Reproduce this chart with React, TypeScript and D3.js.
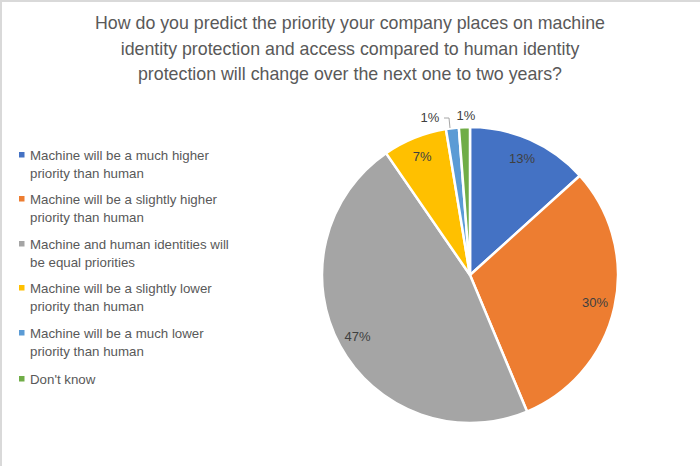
import React from "react";
import * as d3 from "d3";

const titleLines = [
  "How do you predict the priority your company places on machine",
  "identity protection and access compared to human identity",
  "protection will change over the next one to two years?",
];

const categories = [
  "Machine will be a much higher priority than human",
  "Machine will be a slightly higher priority than human",
  "Machine and human identities will be equal priorities",
  "Machine will be a slightly lower priority than human",
  "Machine will be a much lower priority than human",
  "Don't know",
];

const legendLines = [
  ["Machine will be a much higher", "priority than human"],
  ["Machine will be a slightly higher", "priority than human"],
  ["Machine and human identities will", "be equal priorities"],
  ["Machine will be a slightly lower", "priority than human"],
  ["Machine will be a much lower", "priority than human"],
  ["Don't know"],
];

const values = [13.3, 30.4, 46.7, 7.0, 1.4, 1.2];
const colors = ["#4472C4", "#ED7D31", "#A5A5A5", "#FFC000", "#5B9BD5", "#70AD47"];

const W = 700;
const H = 466;
const FONT = "'Liberation Sans', Arial, sans-serif";

export default function App() {
  const cx = 470;
  const cy = 275;
  const r = 148;

  const pie = d3.pie<number>().sort(null).value((d) => d)(values);
  const arc = d3.arc<d3.PieArcDatum<number>>().innerRadius(0).outerRadius(r);
  const labelArc = d3.arc<d3.PieArcDatum<number>>().innerRadius(r * 0.865).outerRadius(r * 0.865);

  const labelPos = pie.map((p, i) => {
    if (i === 4) return { x: 430 - cx, y: 117 - cy };
    if (i === 5) return { x: 466 - cx, y: 115 - cy };
    const [x, y] = labelArc.centroid(p);
    return { x, y };
  });

  const legendY = [155, 199, 244, 288, 333, 379];

  return (
    <svg
      width={W}
      height={H}
      style={{ position: "absolute", left: 0, top: 0, background: "#fff" }}
      fontFamily={FONT}
    >
      <rect x={0} y={0} width={W} height={H} fill="#fff" />
      <line x1={0} y1={1} x2={W} y2={1} stroke="#d9d9d9" strokeWidth={2} />
      <line x1={1} y1={0} x2={1} y2={H} stroke="#d9d9d9" strokeWidth={2} />

      {titleLines.map((t, i) => (
        <text
          key={i}
          x={350}
          y={29 + i * 25.5}
          textAnchor="middle"
          fontSize={17.8}
          fill="#595959"
        >
          {t}
        </text>
      ))}

      <g transform={`translate(${cx},${cy})`}>
        {pie.map((p, i) => (
          <path key={i} d={arc(p) || ""} fill={colors[i]} stroke="#fff" strokeWidth={2.5} />
        ))}
        {pie.map((p, i) => (
          <text
            key={"l" + i}
            x={labelPos[i].x}
            y={labelPos[i].y}
            textAnchor="middle"
            dominantBaseline="central"
            fontSize={13}
            fill="#404040"
          >
            {Math.round(p.data)}%
          </text>
        ))}
        <polyline
          points={`${444 - cx},${118 - cy} ${449 - cx},${118 - cy} ${450 - cx},${128 - cy}`}
          fill="none"
          stroke="#a6a6a6"
          strokeWidth={1}
        />
      </g>

      {legendLines.map((lines, i) => (
        <g key={i}>
          <rect x={19} y={legendY[i] - 3} width={5.5} height={5.5} fill={colors[i]} />
          {lines.map((ln, j) => (
            <text
              key={j}
              x={30}
              y={legendY[i] + j * 18}
              dominantBaseline="central"
              fontSize={13.3}
              fill="#595959"
            >
              {ln}
            </text>
          ))}
        </g>
      ))}
    </svg>
  );
}
